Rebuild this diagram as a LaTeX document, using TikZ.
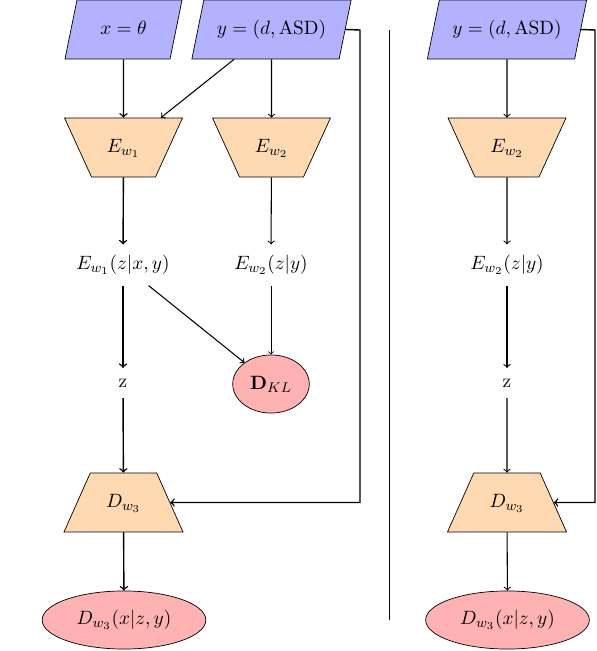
\documentclass[tikz,border=0pt]{standalone}
\usetikzlibrary{shapes.geometric}
\begin{document}
\begin{tikzpicture}[x=0.5682pt,y=-0.5682pt,
  every node/.append style={font=\fontsize{10.95}{13}\selectfont},
  trap/.style={trapezium, trapezium stretches body, draw, thin,
    text height=8pt, text depth=2.7pt, inner ysep=11.4pt},
  io/.style={trap, trapezium left angle=78.5, trapezium right angle=101.5, fill=blue!30},
  enc/.style={trap, trapezium left angle=114.6, trapezium right angle=114.6,
    fill=orange!30, minimum width=67pt},
  dec/.style={trap, trapezium left angle=66, trapezium right angle=66,
    fill=orange!30, minimum width=67.6pt},
  lbl/.style={inner sep=6pt},
  outp/.style={ellipse, draw, thin, fill=red!30, minimum height=33pt, inner sep=1pt},
  arA/.style={->, thick},
  arB/.style={->, semithick},
  arC/.style={->, thin}]
\useasboundingbox (0,0) rectangle (597,651);

% left diagram
\node[io, minimum width=66.5pt] (x1) at (123.5,29.5) {$x=\theta$};
\node[io, minimum width=90.5pt] (y1) at (271.5,29.5) {$y=(d,\mathrm{ASD})$};
\node[enc] (E1) at (123.5,147.5) {$E_{w_1}$};
\node[enc] (E2) at (271.5,147.5) {$E_{w_2}$};
\node[lbl] (q1) at (123,265) {$E_{w_1}(z|x,y)$};
\node[lbl] (q2) at (271,265) {$E_{w_2}(z|y)$};
\node[lbl] (z1) at (123,383) {$\mathrm{z}$};
\node[outp, minimum width=43.5pt] (kl) at (271,384) {$\mathbf{D}_{KL}$};
\node[dec] (D1) at (123.5,502.5) {$D_{w_3}$};
\node[outp, minimum width=93pt] (o1) at (124,620) {$D_{w_3}(x|z,y)$};
\coordinate (f1) at (360,30);

\draw[arA] (x1) -- (E1);
\draw[arB] (y1) -- (E1);
\draw[arB] (y1) -- (E2);
\draw[arA] (E1) -- (q1);
\draw[arB] (E2) -- (q2);
\draw[arA] (q1) -- (z1);
\draw[arB] (q1) -- (kl);
\draw[arC] (q2) -- (kl);
\draw[arA] (z1) -- (D1);
\draw[arA] (D1) -- (o1);
\draw[arA] (y1.east) -- (f1) |- (D1.east);

% separator
\coordinate (s1) at (389,30);
\coordinate (s2) at (389,620);
\draw[thin] (s1) -- (s2);

% right diagram
\node[io, minimum width=90.5pt] (y2) at (507,29.5) {$y=(d,\mathrm{ASD})$};
\node[enc] (E3) at (507,147.5) {$E_{w_2}$};
\node[lbl] (q3) at (507,265) {$E_{w_2}(z|y)$};
\node[lbl] (z2) at (507,383) {$\mathrm{z}$};
\node[dec] (D2) at (507,502.5) {$D_{w_3}$};
\node[outp, minimum width=93pt] (o2) at (507.5,620) {$D_{w_3}(x|z,y)$};
\coordinate (f2) at (595,30);

\draw[arB] (y2) -- (E3);
\draw[arB] (E3) -- (q3);
\draw[arB] (q3) -- (z2);
\draw[arB] (z2) -- (D2);
\draw[arB] (D2) -- (o2);
\draw[arA] (y2.east) -- (f2) |- (D2.east);
\end{tikzpicture}
\end{document}
